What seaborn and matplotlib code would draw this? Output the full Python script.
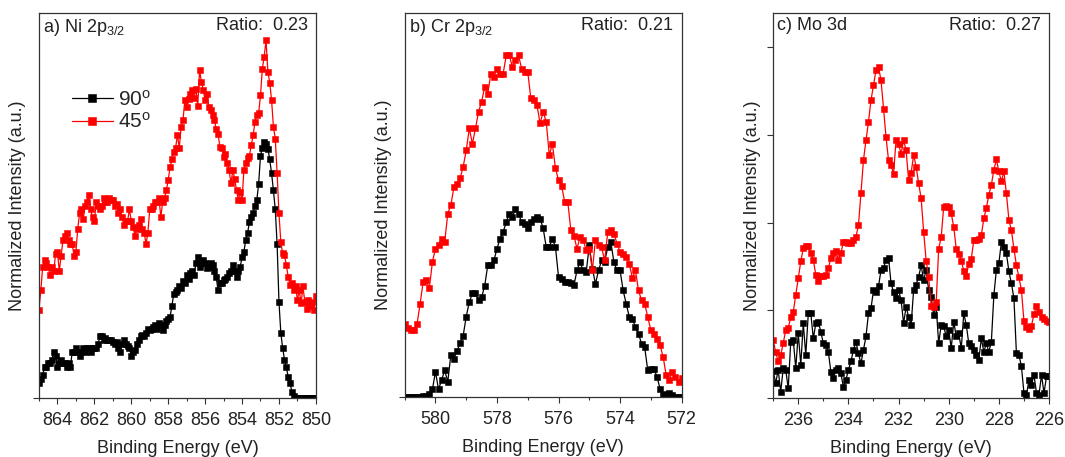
import numpy as np
import pandas as pd
import matplotlib
matplotlib.use("Agg")
import matplotlib.pyplot as plt
from matplotlib.ticker import MultipleLocator
import seaborn as sns

# ------------------------
# Datos (intensidad normalizada)
# ------------------------
# rejilla de energía de cada espectro: inicio, fin, nº de puntos (paso 0.1 eV)
ni_grid = (865.0, 850.0, 151)
cr_grid = (581.0, 572.0, 91)
mo_grid = (237.0, 226.0, 111)

ni_90 = [.04, .05, .06, .08, .08, .09, .09, .10, .12, .11,
         .08, .09, .10, .09, .09, .08, .09, .08, .12, .12,
         .13, .12, .11, .12, .13, .12, .13, .13, .12, .13,
         .13, .13, .14, .16, .16, .15, .155, .15, .15, .15,
         .145, .14, .145, .13, .12, .14, .15, .14, .135, .13,
         .11, .12, .125, .14, .15, .16, .165, .16, .17, .18,
         .177, .18, .185, .19, .18, .195, .19, .177, .19, .20,
         .205, .21, .24, .27, .275, .28, .29, .285, .305, .30,
         .32, .31, .325, .33, .32, .35, .367, .34, .35, .36,
         .35, .337, .34, .35, .345, .33, .315, .28, .298, .30,
         .307, .31, .315, .325, .33, .345, .33, .315, .33, .34,
         .367, .38, .41, .428, .458, .47, .48, .50, .514, .557,
         .63, .65, .666, .66, .648, .62, .584, .54, .49, .40,
         .25, .17, .13, .10, .08, .055, .04, .016, .005, 0,
         0, 0, 0, 0, 0, 0, 0, 0, 0, 0,
         0]
ni_45 = [.23, .28, .34, .36, .35, .34, .32, .34, .33, .375,
         .38, .33, .37, .41, .42, .428, .41, .40, .40, .37,
         .38, .44, .48, .49, .465, .50, .51, .527, .49, .47,
         .46, .51, .50, .49, .50, .52, .51, .51, .52, .515,
         .515, .50, .505, .48, .49, .47, .45, .46, .46, .49,
         .46, .445, .42, .44, .45, .465, .44, .43, .40, .43,
         .49, .49, .50, .51, .51, .52, .47, .51, .52, .54,
         .566, .60, .62, .64, .65, .683, .65, .705, .722, .774,
         .757, .778, .79, .80, .78, .804, .76, .852, .822, .80,
         .774, .79, .757, .748, .735, .722, .70, .687, .653, .65,
         .627, .635, .61, .592, .558, .592, .57, .54, .514, .535,
         .514, .592, .61, .623, .63, .657, .683, .718, .735, .74,
         .787, .856, .887, .93, .848, .82, .774, .705, .674, .584,
         .48, .406, .376, .372, .345, .315, .294, .30, .28, .29,
         .255, .28, .246, .29, .25, .232, .255, .24, .25, .229,
         .264]

cr_90 = [0, 0, 0, 0, 0, 0, .002, .004, .007, .02,
         .066, .02, .045, .07, .04, .11, .10, .12, .14, .16,
         .21, .248, .27, .27, .252, .26, .29, .344, .344, .356,
         .387, .413, .43, .456, .478, .47, .49, .478, .456, .452,
         .44, .456, .465, .47, .465, .44, .391, .391, .413, .391,
         .313, .309, .30, .30, .298, .291, .33, .352, .33, .326,
         .396, .335, .295, .33, .356, .352, .391, .404, .352, .33,
         .33, .278, .243, .209, .204, .183, .165, .139, .13, .07,
         .072, .074, .053, .022, .005, .008, .01, .005, 0, 0,
         0]
cr_45 = [.19, .18, .175, .175, .19, .243, .30, .305, .283, .352,
         .387, .396, .413, .405, .478, .50, .547, .556, .57, .60,
         .643, .70, .66, .70, .743, .77, .808, .79, .843, .834,
         .856, .843, .843, .89, .89, .86, .877, .89, .856, .847,
         .847, .778, .773, .76, .713, .743, .717, .63, .66, .596,
         .565, .55, .509, .509, .435, .42, .387, .417, .409, .383,
         .387, .33, .409, .396, .39, .356, .43, .435, .426, .40,
         .378, .374, .365, .348, .31, .33, .278, .252, .243, .209,
         .174, .165, .152, .135, .105, .057, .044, .066, .053, .04,
         .05]

mo_90 = [.07, .039, .073, .016, .077, .073, .025, .146, .151, .077,
         .168, .086, .194, .112, .22, .22, .155, .194, .198, .172,
         .142, .138, .12, .068, .051, .073, .077, .064, .029, .047,
         .073, .095, .125, .146, .116, .09, .125, .16, .22, .233,
         .28, .276, .29, .333, .338, .359, .364, .298, .276, .259,
         .28, .255, .194, .237, .211, .19, .28, .294, .315, .345,
         .306, .333, .28, .263, .216, .237, .142, .19, .186, .16,
         .177, .129, .198, .16, .168, .129, .22, .19, .142, .134,
         .125, .112, .099, .155, .12, .142, .12, .146, .267, .333,
         .35, .406, .393, .376, .329, .298, .259, .116, .112, .082,
         .013, .009, .047, .034, .06, .013, .009, .06, .013, .056,
         .056]
mo_45 = [.15, .12, .095, .112, .142, .177, .181, .211, .224, .268,
         .311, .355, .389, .394, .394, .376, .359, .32, .303, .316,
         .316, .32, .338, .364, .376, .381, .359, .376, .406, .406,
         .402, .402, .41, .419, .449, .532, .618, .67, .718, .774,
         .813, .852, .86, .826, .752, .678, .618, .605, .583, .67,
         .66, .635, .67, .644, .567, .584, .632, .601, .558, .519,
         .432, .357, .314, .24, .237, .249, .388, .418, .497, .50,
         .497, .48, .445, .388, .375, .357, .331, .318, .349, .362,
         .41, .41, .414, .423, .467, .493, .528, .554, .593, .62,
         .589, .563, .589, .532, .463, .436, .388, .345, .314, .28,
         .20, .184, .18, .188, .218, .24, .223, .21, .205, .20,
         .197]

titles = [r"a) Ni 2p$_{\mathrm{3/2}}$", r"b) Cr 2p$_{\mathrm{3/2}}$", "c) Mo 3d"]
ratios = ["Ratio:  0.23", "Ratio:  0.21", "Ratio:  0.27"]
angles = [r"90$^{\mathrm{o}}$", r"45$^{\mathrm{o}}$"]
xticks = [np.arange(864, 849, -2), np.arange(580, 571, -2), np.arange(236, 225, -2)]

# ------------------------
# Estilo
# ------------------------
sns.set_style("ticks")
plt.rcParams["font.family"] = ["Liberation Sans", "DejaVu Sans"]
plt.rcParams["mathtext.fontset"] = "custom"
plt.rcParams["mathtext.rm"] = "Liberation Sans"
plt.rcParams["mathtext.it"] = "Liberation Sans:italic"
plt.rcParams["axes.edgecolor"] = "#333333"
plt.rcParams["axes.linewidth"] = 0.9
plt.rcParams["xtick.color"] = "#333333"
plt.rcParams["ytick.color"] = "#333333"

fs = 13
fig = plt.figure(figsize=(10.65, 4.57), dpi=100)
boxes = [[0.0366, 0.129, 0.260, 0.842],
         [0.380, 0.131, 0.260, 0.840],
         [0.726, 0.129, 0.259, 0.842]]

panels = [(ni_grid, ni_90, ni_45), (cr_grid, cr_90, cr_45), (mo_grid, mo_90, mo_45)]

for i, (grid, s90, s45) in enumerate(panels):
    ax = fig.add_axes(boxes[i])
    energy = np.round(np.linspace(*grid), 2)
    df = pd.DataFrame({"E": np.concatenate([energy, energy]),
                       "I": s90 + s45,
                       "angle": [angles[0]] * len(energy) + [angles[1]] * len(energy)})
    for ang, col in zip(angles, ["black", "red"]):
        sub = df[df["angle"] == ang]
        sns.lineplot(data=sub, x="E", y="I", ax=ax, color=col, marker="s",
                     markersize=4.6, markeredgecolor=col, markeredgewidth=0.4,
                     linewidth=0.9, sort=False, estimator=None, label=ang,
                     legend=False)

    ax.set_xlim(grid[0], grid[1])
    ax.set_ylim(0, 1)
    ax.set_xticks(xticks[i])
    ax.xaxis.set_minor_locator(MultipleLocator(1))
    ax.tick_params(axis="x", which="major", length=4, width=0.8, labelsize=fs,
                   labelcolor="#222222", pad=6)
    ax.tick_params(axis="x", which="minor", length=2.5, width=0.8)
    if i == 2:
        ax.set_yticks([0, 0.228, 0.455, 0.683, 0.911])
    else:
        ax.set_yticks([0])
    ax.tick_params(axis="y", length=4, width=0.8, labelleft=False)
    ax.set_xlabel("Binding Energy (eV)", fontsize=fs, color="#222222", labelpad=8)
    ax.set_ylabel("Normalized Intensity (a.u.)", fontsize=fs, color="#222222", labelpad=5)

    ax.text(0.015, 0.99, titles[i], transform=ax.transAxes, ha="left", va="top",
            fontsize=fs, color="#222222")
    ax.text(0.97, 0.99, ratios[i], transform=ax.transAxes, ha="right", va="top",
            fontsize=fs, color="#222222")

    if i == 0:
        ax.legend(loc="upper left", bbox_to_anchor=(0.05, 0.85), frameon=False,
                  fontsize=15, handlelength=2.0, handletextpad=0.25, labelspacing=0.1,
                  markerscale=1.2)

fig.savefig("out.png", dpi=100)
